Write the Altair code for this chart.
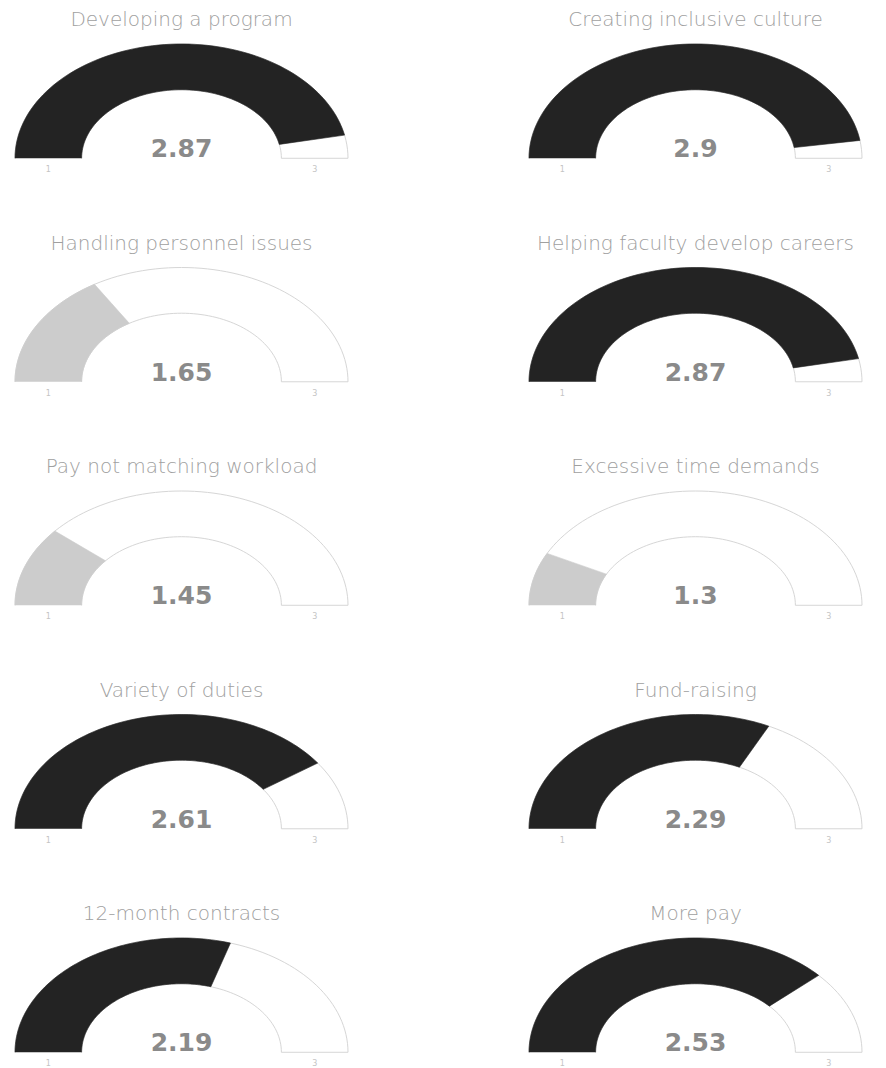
import altair as alt
import pandas as pd

# ---- data ----
names = [
    "Developing a program", "Creating inclusive culture",
    "Handling personnel issues", "Helping faculty develop careers",
    "Pay not matching workload", "Excessive time demands",
    "Variety of duties", "Fund-raising",
    "12-month contracts", "More pay",
]
values = [2.87, 2.9, 1.65, 2.87, 1.45, 1.3, 2.61, 2.29, 2.19, 2.53]
scale_min = 1
scale_max = 3
tick_values = [1, 3]

# ---- geometry parameters (not data) ----
N = 80          # samples along each arc
INNER = 0.6     # inner radius as share of outer radius
W, H = 333, 128
Y_LOW = -0.12

gauges = pd.DataFrame({"name": names, "value": values})
steps = pd.DataFrame(
    [{"i": i, "ring": r} for r in (0, 1) for i in range(N + 1)]
)
poly = gauges.merge(steps, how="cross")
ticks = pd.DataFrame({"tv": tick_values})

xs = alt.Scale(domain=[-1, 1], nice=False, zero=False)
ys = alt.Scale(domain=[Y_LOW, 1], nice=False, zero=False)


def ring_geom(chart, frac_expr):
    return chart.transform_calculate(
        t=f"datum.i / {N}",
        frac=frac_expr,
    ).transform_calculate(
        s="datum.ring == 0 ? datum.t : 1 - datum.t",
        rad=f"datum.ring == 0 ? 1 : {INNER}",
    ).transform_calculate(
        ang="PI * (1 - datum.s * datum.frac)",
    ).transform_calculate(
        px="datum.rad * cos(datum.ang)",
        py="datum.rad * sin(datum.ang)",
        k=f"datum.ring * {N + 1} + datum.i",
        fc="datum.value >= 2 ? '#232323' : '#cccccc'",
    )


def gauge(name):
    base_poly = alt.Chart(poly).transform_filter(alt.datum.name == name)
    bg = ring_geom(base_poly, "1").mark_line(
        fill="white", stroke="#d6d6d6", strokeWidth=1
    ).encode(
        x=alt.X("px:Q", scale=xs, axis=None),
        y=alt.Y("py:Q", scale=ys, axis=None),
        order=alt.Order("k:Q"),
    )
    fg = ring_geom(
        base_poly, f"(datum.value - {scale_min}) / ({scale_max} - {scale_min})"
    ).mark_line(strokeWidth=0.6).encode(
        x=alt.X("px:Q", scale=xs, axis=None),
        y=alt.Y("py:Q", scale=ys, axis=None),
        order=alt.Order("k:Q"),
        fill=alt.Fill("fc:N", scale=None, legend=None),
        stroke=alt.Stroke("fc:N", scale=None, legend=None),
    )
    txt = alt.Chart(gauges).transform_filter(alt.datum.name == name).transform_calculate(
        lab="datum.value + ''", x0="0", y0="0"
    ).mark_text(
        font="DejaVu Sans", fontWeight="bold", fontSize=25, color="#8a8a8a",
        baseline="alphabetic", dy=-1,
    ).encode(
        x=alt.X("x0:Q", scale=xs, axis=None),
        y=alt.Y("y0:Q", scale=ys, axis=None),
        text="lab:N",
    )
    tk = alt.Chart(ticks).transform_calculate(
        tx=f"cos(PI * (1 - (datum.tv - {scale_min}) / ({scale_max} - {scale_min}))) * {(1 + INNER) / 2}",
        ty="0",
        tl="datum.tv + ''",
    ).mark_text(
        font="DejaVu Sans", fontSize=8, color="#c4c4c4", baseline="middle", dy=12
    ).encode(
        x=alt.X("tx:Q", scale=xs, axis=None),
        y=alt.Y("ty:Q", scale=ys, axis=None),
        text="tl:N",
    )
    return alt.layer(bg, fg, txt, tk).properties(
        width=W, height=H,
        title=alt.TitleParams(
            text=name, fontSize=20, color="#a0a0a0", font="DejaVu Sans",
            fontWeight=200, offset=12, anchor="middle",
        ),
    )


rows = []
for r in range(0, len(names), 2):
    rows.append(alt.hconcat(gauge(names[r]), gauge(names[r + 1]), spacing=177))

chart = alt.vconcat(*rows, spacing=58.5).properties(
    background="white",
    padding={"left": 5, "top": 2, "right": 0, "bottom": 0},
).configure_view(strokeWidth=0, stroke=None)

chart.save("out.html", embed_options={"renderer": "svg", "actions": False})
